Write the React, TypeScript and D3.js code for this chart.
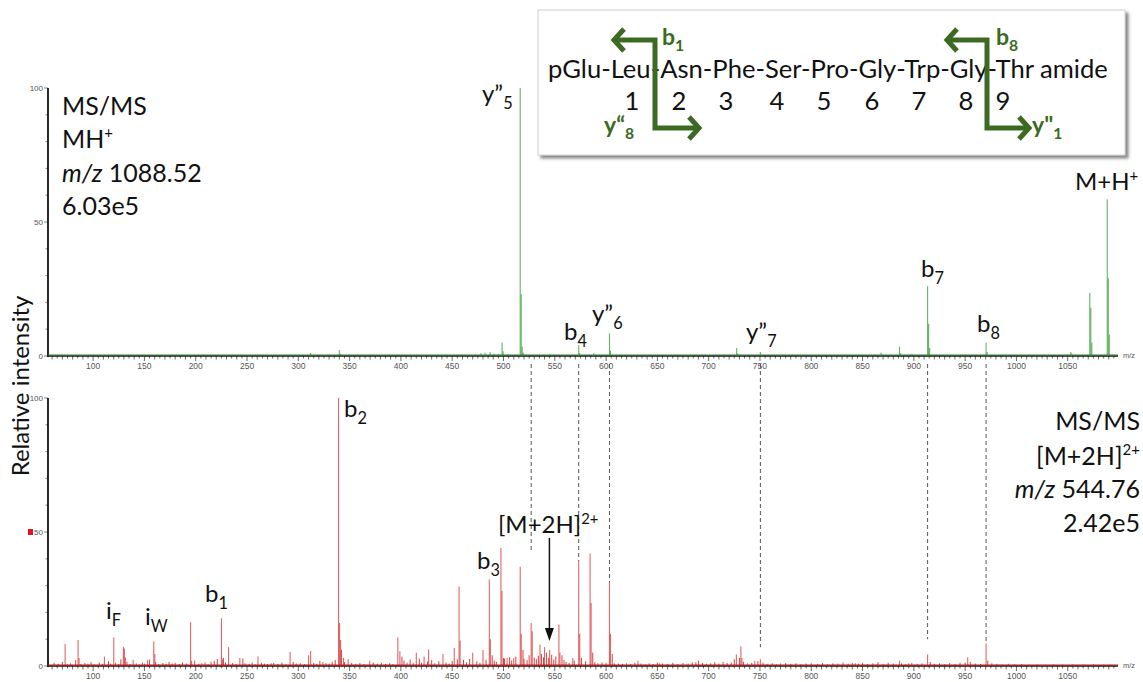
import React from 'react';
import * as d3 from 'd3';

// ---------- DATA ----------
// Top spectrum: MS/MS of MH+ (m/z 1088.52), [m/z, relative intensity %]
const topPeaks: [number, number][] = [
  [60, 0.3], [74, 0.4], [90, 0.3], [110, 0.4], [131, 0.3], [150, 0.5], [172, 0.3], [195, 0.4],
  [225, 0.4], [252, 0.3], [281, 0.4], [300, 0.3], [312, 1.2], [326, 0.4], [340, 2.2], [341, 0.8],
  [362, 0.4], [381, 0.3], [401, 0.5], [421, 0.4], [441, 0.3], [459, 0.5], [470, 0.4], [478, 1.0],
  [482, 1.2], [487, 1.5], [491, 0.8], [495, 0.6], [498.6, 5.0], [499.6, 1.8], [505, 0.6],
  [516.27, 100], [517.27, 23], [518.27, 3.5], [519.3, 1.2], [530, 0.5], [545, 0.6], [560, 0.4],
  [573.3, 4.0], [574.3, 1.0], [588, 1.0], [603.3, 8.5], [604.3, 2.0], [620, 0.5], [640, 0.4],
  [660, 0.3], [680, 0.4], [700, 0.3], [715, 0.5], [727.3, 3.0], [728.3, 1.0], [750.4, 1.5],
  [770, 0.4], [790, 0.3], [810, 0.4], [830, 0.3], [850, 0.5], [868, 1.2], [886, 3.5], [887, 1.0],
  [898, 0.8], [913.4, 26], [914.4, 12], [915.4, 3.0], [930, 0.4], [950, 0.5], [970.4, 5.0],
  [971.4, 1.5], [990, 0.4], [1010, 0.3], [1030, 0.4], [1053, 1.5], [1054, 0.8], [1071.5, 23.5],
  [1072.5, 18], [1073.5, 5.0], [1088.52, 58.5], [1089.52, 29], [1090.52, 8.0], [1095, 0.5],
];

// Bottom spectrum: MS/MS of [M+2H]2+ (m/z 544.76)
const bottomPeaks: [number, number][] = [
  [72.7, 8.2], [85.3, 9.7], [86.3, 3.0], [111, 3.5], [120.1, 10.6], [129.5, 7.2], [130.5, 6.5],
  [131.5, 3.2], [139, 2.2], [153, 2.2], [159.1, 9.1], [160.1, 4.5], [195, 16.3], [196, 2.0],
  [206, 1.0], [215, 1.6], [225.1, 17.8], [226.1, 2.5], [232, 7.0], [243, 3.0], [260.7, 3.5],
  [273.5, 1.0], [292, 5.2], [310, 4.0], [312, 5.6], [324, 1.5], [339.2, 100], [340.2, 16],
  [341.2, 9.7], [344, 3.0], [348.6, 2.5], [369.6, 2.0], [397, 10.6], [399, 5.5], [415, 4.9],
  [422.6, 3.5], [427, 6.2], [441, 4.5], [452, 6.7], [456.7, 29.7], [457.7, 9.5], [470, 4.9],
  [480, 6.0], [486.2, 32.3], [487.2, 10], [497.5, 44], [498.5, 28], [503.5, 3.0], [510, 3.0],
  [516.3, 37], [517.3, 12], [527, 16], [528, 13], [535.6, 8.0], [540, 7.0], [545, 6.0],
  [554, 15.5], [555, 5.0], [567.5, 3.0], [573.3, 39], [574.3, 12], [584.4, 42], [585.4, 23.5],
  [603.3, 31], [604.3, 12], [631, 2.0], [652, 1.0], [687.5, 1.5], [727, 4.3], [731.4, 7.4],
  [732.4, 3.0], [745, 2.0], [750.4, 2.5], [843, 1.0], [886, 2.0], [895, 1.0], [913.4, 4.3],
  [952.5, 3.3], [970.4, 8.3],
];

const bottomNoise: [number, number][] = [
  [62, 1.2], [66, 0.8], [70, 1.5], [75, 0.6], [78, 1.0], [83, 2.2], [88, 0.7], [92, 1.1], [95, 0.9],
  [98, 1.4], [101, 0.6], [106, 1.3], [109, 0.8], [115, 1.8], [117, 0.9], [122, 1.2], [125, 0.7],
  [127, 2.5], [133, 1.6], [136, 0.8], [142, 1.0], [145, 0.6], [148, 1.3], [150, 0.9], [155, 2.4],
  [161, 1.5], [164, 0.7], [168, 1.1], [171, 0.8], [174, 1.6], [177, 0.9], [180, 1.2], [184, 0.7],
  [187, 1.4], [191, 0.9], [199, 2.0], [203, 0.8], [209, 1.3], [212, 0.7], [218, 1.9], [221, 2.6],
  [227, 3.0], [229, 1.4], [236, 1.1], [239, 0.7], [246, 2.8], [248, 1.0], [252, 0.8], [255, 1.3],
  [258, 0.6], [264, 1.2], [267, 0.9], [270, 0.7], [276, 1.1], [280, 0.8], [284, 1.3], [288, 0.6],
  [295, 1.5], [298, 0.9], [302, 1.0], [306, 0.7], [315, 1.2], [318, 0.8], [321, 1.9], [327, 1.1],
  [330, 0.9], [333, 1.6], [336, 2.2], [342, 6.0], [345, 1.5], [352, 1.2], [356, 0.8], [360, 1.1],
  [364, 0.7], [373, 1.3], [377, 0.9], [381, 1.2], [385, 0.8], [389, 1.0], [392, 0.7], [401, 3.5],
  [403, 2.0], [406, 1.2], [409, 2.4], [412, 1.1], [418, 2.7], [420, 1.3], [426, 1.7], [430, 2.2],
  [433, 1.0], [437, 1.8], [444, 1.3], [447, 0.9], [450, 1.9], [455, 2.5], [461, 2.3], [464, 1.4],
  [467, 2.6], [474, 1.8], [477, 1.2], [483, 2.3], [489, 4.0], [491, 2.0], [493, 1.6], [500, 3.0],
  [501, 2.8], [506, 3.3], [508, 2.1], [512, 3.5], [519, 6.0], [520, 2.7], [523, 2.2], [525, 4.0],
  [530, 3.1], [532, 2.6], [534, 3.8], [537, 4.5], [539, 3.2], [542, 5.0], [544, 3.0], [547, 4.2],
  [549, 2.4], [551, 3.6], [557, 4.0], [559, 2.2], [561, 1.5], [564, 1.1], [569, 2.0], [576, 3.0],
  [580, 1.8], [587, 5.0], [589, 1.4], [592, 1.0], [596, 1.3], [600, 1.1], [606, 4.5], [608, 1.0],
  [612, 0.9], [616, 0.8], [620, 1.0], [624, 0.7], [628, 1.2], [634, 0.9], [638, 0.6], [642, 1.0],
  [646, 0.7], [650, 1.3], [655, 0.9], [660, 0.8], [665, 1.2], [670, 0.7], [675, 1.1], [680, 0.9],
  [684, 1.3], [690, 2.0], [694, 1.1], [698, 0.8], [702, 1.0], [706, 1.4], [710, 0.9], [714, 1.5],
  [718, 1.1], [722, 1.3], [725, 2.5], [730, 3.0], [734, 1.6], [738, 1.0], [742, 1.2], [748, 1.8],
  [753, 1.2], [757, 0.8], [762, 1.0], [766, 0.7], [770, 0.9], [775, 1.1], [780, 0.8], [785, 1.0],
  [790, 0.7], [795, 0.9], [800, 1.0], [806, 0.8], [811, 1.1], [816, 0.7], [821, 1.0], [826, 0.9],
  [831, 1.3], [836, 0.8], [840, 1.1], [846, 0.9], [850, 1.2], [855, 0.7], [860, 1.0], [865, 1.4],
  [870, 0.8], [875, 1.2], [880, 0.9], [888, 1.0], [892, 0.7], [898, 1.1], [903, 0.8], [908, 1.0],
  [916, 1.5], [920, 0.8], [925, 1.0], [930, 0.7], [935, 1.1], [940, 0.8], [945, 1.2], [950, 1.3],
  [955, 1.5], [960, 0.9], [965, 0.7], [972, 2.0], [976, 1.0], [981, 0.8], [986, 0.6], [992, 0.8],
  [998, 0.6], [1005, 0.7], [1012, 0.5], [1020, 0.6], [1028, 0.5], [1036, 0.6], [1045, 0.5],
  [1055, 0.6], [1065, 0.5], [1075, 0.6], [1085, 0.5], [1092, 0.5],
];

// Fragments shared by both spectra (dashed connectors): m/z and where they end in the lower panel (%)
const linkMz = [527, 573.3, 603.3, 750.4, 913.4, 970.4];
const linkEnd = [43, 39, 31, 7, 10, 8.5];

const xTicks = d3.range(100, 1051, 50);
const yTicks = [0, 50, 100];

const sequence = 'pGlu-Leu-Asn-Phe-Ser-Pro-Gly-Trp-Gly-Thr amide';
const residueNumbers = ['1', '2', '3', '4', '5', '6', '7', '8', '9'];

const topInfo = ['MS/MS', 'MH', 'm/z', '6.03e5'];
const bottomInfo = ['MS/MS', '[M+2H]', 'm/z', '2.42e5'];

// ---------- LAYOUT ----------
const W = 1143, H = 682;
const X0 = 48, X1 = 1118;
const x = d3.scaleLinear().domain([56, 1099]).range([X0, X1]);
const yTop = d3.scaleLinear().domain([0, 100]).range([356, 88]);
const yBot = d3.scaleLinear().domain([0, 100]).range([666, 398]);
const numberX = [632, 679, 726, 777, 824, 872, 919, 966, 1003];

const FONT = 'Lato, "Open Sans", sans-serif';
const GREEN = '#3c6a22';

function Axis({ y }: { y: d3.ScaleLinear<number, number> }) {
  const y0 = y(0);
  const minor = d3.range(60, 1096, 5);
  const yMinor = d3.range(0, 101, 10);
  return (
    <g>
      {minor.map((m) => (
        <line key={m} x1={x(m)} x2={x(m)} y1={y0} y2={y0 + (m % 50 === 0 ? 5 : m % 10 === 0 ? 3.5 : 2.5)}
          stroke="#444" strokeWidth={0.8} />
      ))}
      {xTicks.map((t) => (
        <text key={t} x={x(t)} y={y0 + 13} fontSize={8.5} fill="#555" textAnchor="middle"
          fontFamily='"Liberation Sans Narrow", "Liberation Sans", Arial, sans-serif'>{t}</text>
      ))}
      {yMinor.map((v) => (
        <line key={v} x1={X0 - (v % 50 === 0 ? 4 : 2.5)} x2={X0} y1={y(v)} y2={y(v)} stroke="#666" strokeWidth={0.8} />
      ))}
      {yTicks.map((v) => (
        <text key={v} x={X0 - 5} y={y(v) + 3} fontSize={8} fill="#555" textAnchor="end"
          fontFamily='"Liberation Sans Narrow", "Liberation Sans", Arial, sans-serif'>{v}</text>
      ))}
      <line x1={X0} x2={X1} y1={y0} y2={y0} stroke="#111" strokeWidth={1.6} />
      <line x1={X0} x2={X0} y1={y(100)} y2={y0 + 1} stroke="#111" strokeWidth={1.8} />
      <text x={X1 + 5} y={y0 + 2} fontSize={7.5} fill="#555"
        fontFamily='"Liberation Sans", Arial, sans-serif'>m/z</text>
    </g>
  );
}

function Sticks({ peaks, y, color, opacity, width }: { peaks: [number, number][]; y: d3.ScaleLinear<number, number>; color: string; opacity: number; width: number }) {
  return (
    <g>
      {peaks.map(([m, v], i) => (
        <line key={i} x1={x(m)} x2={x(m)} y1={y(0)} y2={y(v)} stroke={color} strokeOpacity={opacity} strokeWidth={width} />
      ))}
    </g>
  );
}

function Lab({ x: lx, y: ly, t, sub, sup, size = 24, bold = false, color = '#111' }: any) {
  return (
    <text x={lx} y={ly} fontSize={size} fontFamily={FONT} fill={color} fontWeight={bold ? 700 : 400}>
      {t}
      {sub && <tspan fontSize={size * 0.68} dy={size * 0.28}>{sub}</tspan>}
      {sup && <tspan fontSize={size * 0.62} dy={-size * 0.38}>{sup}</tspan>}
    </text>
  );
}

function Bracket({ xv, xl, xr, yt, yb }: { xv: number; xl: number; xr: number; yt: number; yb: number }) {
  const a = 11;
  return (
    <g fill="none" stroke={GREEN} strokeWidth={5} strokeLinejoin="miter">
      <path d={`M${xl + 2},${yt} H${xv} V${yb} H${xr - 2}`} />
      <path d={`M${xl + a},${yt - a} L${xl + 1},${yt} L${xl + a},${yt + a}`} />
      <path d={`M${xr - a},${yb - a} L${xr - 1},${yb} L${xr - a},${yb + a}`} />
    </g>
  );
}

export default function App() {
  return (
    <svg width={W} height={H} viewBox={`0 0 ${W} ${H}`}
      style={{ position: 'absolute', left: 0, top: 0, background: '#fff', display: 'block' }}>
      <defs>
        <filter id="shadow" x="-5%" y="-10%" width="115%" height="130%">
          <feDropShadow dx="3" dy="3" stdDeviation="1.8" floodColor="#555" floodOpacity="0.7" />
        </filter>
      </defs>
      <rect width={W} height={H} fill="#fff" />

      {/* dashed connectors */}
      {linkMz.map((m, i) => (
        <line key={m} x1={x(m)} x2={x(m)} y1={364} y2={yBot(linkEnd[i])} stroke="#555"
          strokeWidth={1} strokeDasharray="4,3" />
      ))}

      {/* top panel */}
      <Axis y={yTop} />
      <Sticks peaks={topPeaks} y={yTop} color="#2f9a2f" opacity={0.75} width={1.1} />
      <line x1={X0} x2={X1} y1={yTop(0) - 1} y2={yTop(0) - 1} stroke="#2f7a2f" strokeWidth={1} />

      {/* bottom panel */}
      <Axis y={yBot} />
      <Sticks peaks={bottomNoise} y={yBot} color="#d21f1f" opacity={0.85} width={1} />
      <Sticks peaks={bottomPeaks} y={yBot} color="#d42323" opacity={0.7} width={1.1} />
      <line x1={X0} x2={X1} y1={yBot(0) - 1} y2={yBot(0) - 1} stroke="#c01818" strokeWidth={1.2} />
      <rect x={28} y={529} width={5} height={6} fill="#e0141e" />

      {/* y label */}
      <text transform="translate(29,386) rotate(-90)" textAnchor="middle" fontSize={24}
        fontFamily={FONT} fill="#111">Relative intensity</text>

      {/* top info */}
      <g fontFamily={FONT} fontSize={25} fill="#111">
        <text x={62} y={115}>{topInfo[0]}</text>
        <text x={62} y={148}>{topInfo[1]}<tspan fontSize={15} dy={-10}>+</tspan></text>
        <text x={62} y={182}><tspan fontStyle="italic">{topInfo[2]}</tspan> 1088.52</text>
        <text x={62} y={215}>{topInfo[3]}</text>
      </g>

      {/* bottom info */}
      <g fontFamily={FONT} fontSize={25} fill="#111" textAnchor="end">
        <text x={1140} y={430}>{bottomInfo[0]}</text>
        <text x={1140} y={465}>{bottomInfo[1]}<tspan fontSize={15} dy={-10}>2+</tspan></text>
        <text x={1140} y={498}><tspan fontStyle="italic">{bottomInfo[2]}</tspan> 544.76</text>
        <text x={1140} y={532}>{bottomInfo[3]}</text>
      </g>

      {/* top peak labels */}
      <Lab x={482} y={102} t="y”" sub="5" />
      <Lab x={564} y={340} t="b" sub="4" />
      <Lab x={592} y={322} t="y”" sub="6" />
      <Lab x={746} y={340} t="y”" sub="7" />
      <Lab x={921} y={277} t="b" sub="7" />
      <Lab x={977} y={332} t="b" sub="8" />
      <Lab x={1075} y={190} t="M+H" sup="+" />

      {/* bottom peak labels */}
      <Lab x={344} y={417} t="b" sub="2" />
      <Lab x={477} y={569} t="b" sub="3" />
      <Lab x={205} y={602} t="b" sub="1" />
      <Lab x={106} y={619} t="i" sub="F" />
      <Lab x={145} y={625} t="i" sub="W" />
      <Lab x={498} y={533} t="[M+2H]" sup="2+" />
      <line x1={x(544.76)} x2={x(544.76)} y1={538} y2={630} stroke="#111" strokeWidth={1.5} />
      <path d={`M${x(544.76) - 4.5},${628} L${x(544.76)},${641} L${x(544.76) + 4.5},${628} Z`} fill="#111" />

      {/* inset box */}
      <rect x={538} y={10} width={587} height={145} fill="#fff" stroke="#d0d0d0" strokeWidth={1} filter="url(#shadow)" />
      <text x={548} y={78} fontSize={25.6} fontFamily={FONT} fill="#111">{sequence}</text>
      {residueNumbers.map((n, i) => (
        <text key={n} x={numberX[i]} y={110} fontSize={25.6} fontFamily={FONT} fill="#111" textAnchor="middle">{n}</text>
      ))}
      <Bracket xv={655} xl={613} xr={700} yt={40} yb={128} />
      <Bracket xv={987} xl={946} xr={1030} yt={40} yb={128} />
      <Lab x={662} y={45} t="b" sub="1" bold color={GREEN} size={23} />
      <Lab x={996} y={45} t="b" sub="8" bold color={GREEN} size={23} />
      <Lab x={604} y={133} t="y“" sub="8" bold color={GREEN} size={23} />
      <Lab x={1032} y={133} t={'y"'} sub="1" bold color={GREEN} size={23} />
    </svg>
  );
}
